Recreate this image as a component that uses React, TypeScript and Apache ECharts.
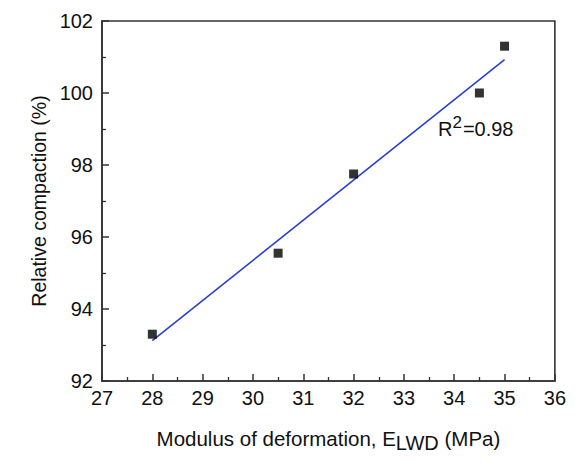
import React, { useEffect, useRef } from "react";
import * as echarts from "echarts";

const modulusX = [28, 30.5, 32, 34.5, 35];
const compactionY = [93.3, 95.55, 97.75, 100.0, 101.3];
const fitX = [28, 35];
const fitY = [93.12, 100.93];
const r2Label = "0.98";

const FONT = "'Liberation Sans', Arial, sans-serif";
const TXT = "#111111";
const AX = "#333333";

export default function App() {
  const ref = useRef<HTMLDivElement>(null);
  useEffect(() => {
    if (!ref.current) return;
    const chart = echarts.init(ref.current, undefined, { renderer: "svg" });
    const axisCommon = {
      axisLine: { show: true, onZero: false, lineStyle: { color: AX, width: 1.6 } },
      axisTick: { show: true, inside: true, length: 7, lineStyle: { color: AX, width: 1.5 } },
      minorTick: { show: true, splitNumber: 2, length: 4, lineStyle: { color: AX, width: 1.3 } },
      splitLine: { show: false },
      axisLabel: { color: TXT, fontSize: 20, fontFamily: FONT },
    };
    chart.setOption({
      animation: false,
      backgroundColor: "#ffffff",
      grid: {
        left: 94,
        top: 13,
        right: 6,
        bottom: 65,
        show: true,
        borderColor: AX,
        borderWidth: 1.6,
        backgroundColor: "transparent",
      },
      xAxis: {
        type: "value",
        min: 27,
        max: 36,
        interval: 1,
        ...axisCommon,
        axisLabel: { ...axisCommon.axisLabel, margin: 7 },
        name: "Modulus of deformation, E{sub|LWD} (MPa)",
        nameLocation: "middle",
        nameGap: 43,
        nameTextStyle: {
          color: TXT,
          fontSize: 20.5,
          fontFamily: FONT,
          rich: {
            sub: { fontSize: 20, fontFamily: FONT, color: TXT, padding: [9, 0, 0, 0] },
          },
        },
      },
      yAxis: {
        type: "value",
        min: 92,
        max: 102,
        interval: 2,
        ...axisCommon,
        axisLabel: { ...axisCommon.axisLabel, margin: 9 },
        name: "Relative compaction (%)",
        nameLocation: "middle",
        nameGap: 52,
        nameTextStyle: { color: TXT, fontSize: 19.5, fontFamily: FONT },
      },
      graphic: [
        {
          type: "text",
          left: 430,
          top: 106,
          style: {
            text: "R{sup|2}=" + r2Label,
            fill: TXT,
            font: `20px ${FONT}`,
            rich: {
              sup: { fontSize: 17, fontFamily: FONT, fill: TXT, padding: [0, 1, 12, 0] },
            },
          },
        },
      ],
      series: [
        {
          type: "line",
          data: fitX.map((x, i) => [x, fitY[i]]),
          showSymbol: false,
          symbol: "none",
          lineStyle: { color: "#2a3fd0", width: 1.6 },
          z: 2,
        },
        {
          type: "scatter",
          data: modulusX.map((x, i) => [x, compactionY[i]]),
          symbol: "rect",
          symbolSize: 9,
          itemStyle: { color: "#000000" },
          z: 3,
        },
      ],
    });
    return () => chart.dispose();
  }, []);
  return <div ref={ref} style={{ width: 561, height: 450 }} />;
}
